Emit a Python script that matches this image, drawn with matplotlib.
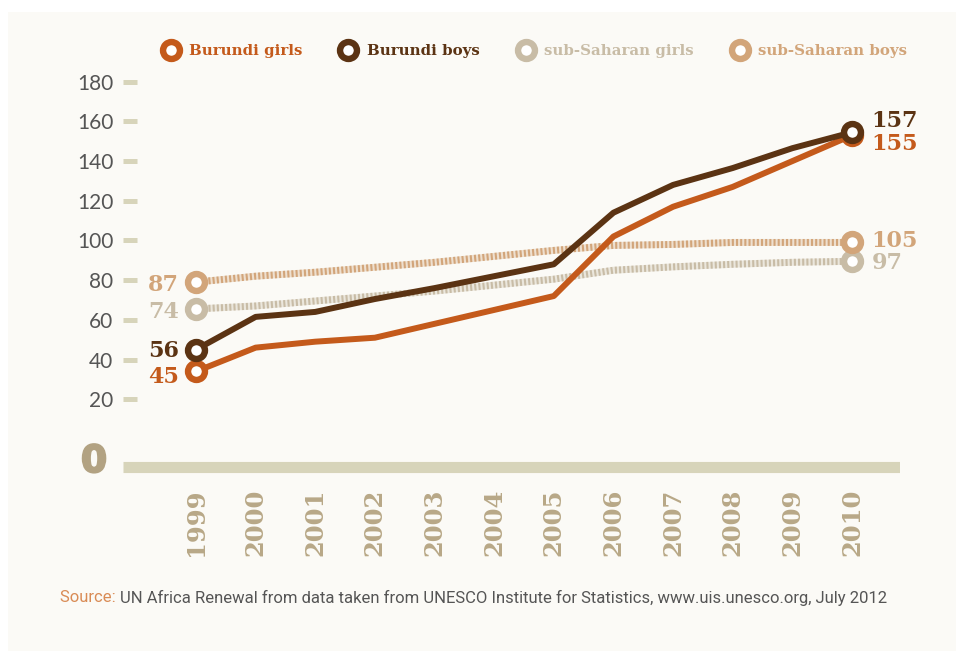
import matplotlib
matplotlib.use('Agg')
import matplotlib.pyplot as plt
import matplotlib.patheffects as pe
from matplotlib.lines import Line2D
from matplotlib.patches import Rectangle

# values (line positions) and the printed end labels
years = list(range(1999, 2011))
burundi_girls = [34, 46, 49, 51, 58, 65, 72, 102, 117, 127, 140, 153]
burundi_boys = [45, 61.5, 64, 70.5, 76, 82, 88, 114, 128, 136.5, 146.5, 154.5]
ssa_girls = [65.5, 67, 69.5, 72, 74.5, 77.5, 80.5, 85, 86.7, 88, 89, 89.5]
ssa_boys = [79, 82, 84, 86.5, 89, 92, 95, 97.5, 98, 99, 99, 99]

start_labels = {'girls': '45', 'boys': '56', 'ssa_girls': '74', 'ssa_boys': '87'}
end_labels = {'girls': '155', 'boys': '157', 'ssa_girls': '97', 'ssa_boys': '105'}
legend_names = ['Burundi girls', 'Burundi boys', 'sub-Saharan girls', 'sub-Saharan boys']
yticks = [20, 40, 60, 80, 100, 120, 140, 160, 180]

c_girls = '#C45A1B'
c_boys = '#5B3313'
c_ssa_girls = '#C8BCA6'
c_ssa_boys = '#D2A57A'
bg = '#FBFAF6'
tick_col = '#D7D4BA'

fig = plt.figure(figsize=(9.56, 6.51), dpi=100, facecolor=bg)
fig.patches.append(Rectangle((0, 1 - 12 / 651), 1, 12 / 651, transform=fig.transFigure,
                             facecolor='white', edgecolor='none', zorder=0))
fig.patches.append(Rectangle((0, 0), 8 / 956, 1, transform=fig.transFigure,
                             facecolor='white', edgecolor='none', zorder=0))

ax = fig.add_axes([123 / 956, 171 / 651, 777 / 956, 410 / 651])
ax.set_facecolor('none')
ax.set_xlim(1997.776, 2010.805)
ax.set_ylim(-20.7, 185.9)
for s in ax.spines.values():
    s.set_visible(False)

# baseline bar
ax.axhline(-14, color=tick_col, lw=8, solid_capstyle='butt', zorder=1)

mk = dict(marker='o', markersize=12.2, markeredgewidth=4.6, markerfacecolor='white',
          markevery=[0, -1])

# sub-Saharan dotted lines
for vals, col in [(ssa_girls, c_ssa_girls), (ssa_boys, c_ssa_boys)]:
    ax.plot(years, vals, color=col, lw=5, alpha=0.3, zorder=2)
    ax.plot(years, vals, color=col, lw=5, linestyle=(0, (0.3, 0.3)), zorder=2.5)
    ax.plot(years, vals, color=col, lw=0, markeredgecolor=col, zorder=3, **mk)

ax.plot(years, burundi_girls, color=c_girls, lw=4.3, markeredgecolor=c_girls,
        solid_joinstyle='round', zorder=4, **mk)
ax.plot(years, burundi_boys, color=c_boys, lw=4.3, markeredgecolor=c_boys,
        solid_joinstyle='round', zorder=5, **mk)

# value labels at both ends
lab_font = dict(family='DejaVu Serif', weight='bold', fontsize=16)
series = [('girls', burundi_girls, c_girls, -4, -6),
          ('boys', burundi_boys, c_boys, -1, 8),
          ('ssa_girls', ssa_girls, c_ssa_girls, -2, -1),
          ('ssa_boys', ssa_boys, c_ssa_boys, -2, 1)]
for key, vals, col, dy0, dy1 in series:
    ax.annotate(start_labels[key], (years[0], vals[0]), xytext=(-12, dy0),
                textcoords='offset points', ha='right', va='center', color=col, **lab_font)
    ax.annotate(end_labels[key], (years[-1], vals[-1]), xytext=(14, dy1),
                textcoords='offset points', ha='left', va='center', color=col, **lab_font)

# axes ticks
ax.set_yticks(yticks)
ax.set_yticklabels([str(v) for v in yticks], family='Lato', fontsize=15,
                   color='#555555')
ax.tick_params(axis='y', direction='in', length=10, width=3.6, color=tick_col, pad=7)
ax.set_xticks(years)
ax.set_xticklabels([str(y) for y in years], rotation=90, family='DejaVu Serif',
                   fontweight='bold', fontsize=17.5, color='#B8A887', va='top')
ax.tick_params(axis='x', length=0, pad=6)

fig.text(94 / 956, 1 - 462 / 651, '0', ha='center', va='center', fontsize=27,
         fontweight='bold', color='#B2A282', family='DejaVu Sans',
         path_effects=[pe.withStroke(linewidth=1.5, foreground='#B2A282')])

# legend
handles = [Line2D([], [], linestyle='none', marker='o', markersize=12.2, markeredgewidth=4.6,
                  markerfacecolor='white', markeredgecolor=c)
           for c in [c_girls, c_boys, c_ssa_girls, c_ssa_boys]]
leg = fig.legend(handles, legend_names, ncol=4, loc='center left',
                 bbox_to_anchor=(151 / 956, 1 - 51 / 651), frameon=False,
                 prop=dict(family='DejaVu Serif', weight='bold', size=10.8),
                 handlelength=1.6, handletextpad=0.45, columnspacing=2.25, borderpad=0)
for txt, c in zip(leg.get_texts(), [c_girls, c_boys, c_ssa_girls, c_ssa_boys]):
    txt.set_color(c)

# source line
src = fig.text(60 / 956, 1 - 598 / 651, 'Source: ', color='#D98B55', fontsize=12.0,
               family='Roboto', va='center')
fig.canvas.draw()
bb = src.get_window_extent()
fig.text(bb.x1 / 956, 1 - 598 / 651,
         'UN Africa Renewal from data taken from UNESCO Institute for Statistics, www.uis.unesco.org, July 2012',
         color='#555555', fontsize=12.0, family='Roboto', va='center')

fig.savefig('out.png', dpi=100, facecolor=bg)
